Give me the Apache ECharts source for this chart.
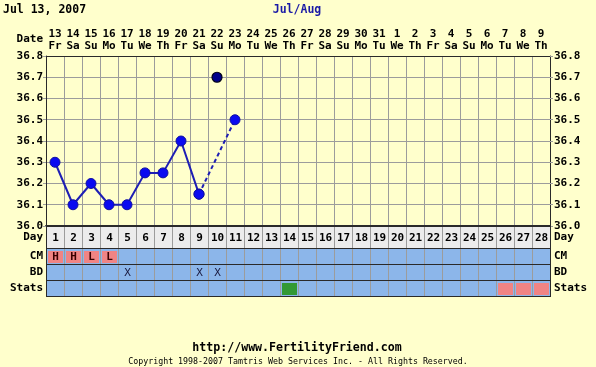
<!DOCTYPE html>
<html><head><meta charset="utf-8">
<script src="https://cdn.jsdelivr.net/npm/echarts@6/dist/echarts.min.js"></script>
<style>html,body{margin:0;padding:0;background:#ffffcc}#c{width:596px;height:367px}</style>
</head><body><div id="c"></div>
<script>
// ---- data ----
const dates = ['13','14','15','16','17','18','19','20','21','22','23','24','25','26','27','28','29','30','31','1','2','3','4','5','6','7','8','9'];
const weekdays = ['Fr','Sa','Su','Mo','Tu','We','Th','Fr','Sa','Su','Mo','Tu','We','Th','Fr','Sa','Su','Mo','Tu','We','Th','Fr','Sa','Su','Mo','Tu','We','Th'];
const cycleDays = ['1','2','3','4','5','6','7','8','9','10','11','12','13','14','15','16','17','18','19','20','21','22','23','24','25','26','27','28'];
const temps = [36.3, 36.1, 36.2, 36.1, 36.1, 36.25, 36.25, 36.4, 36.15, 36.7, 36.5];
const discardedTempDay = 10;
const cmObs = ['H','H','L','L'];
const bdDays = [5, 9, 10];
const statsGreenDays = [14];
const statsPinkDays = [26, 27, 28];
const tableRows = ['CM','BD','Stats'];
const yTicks = [36.0, 36.1, 36.2, 36.3, 36.4, 36.5, 36.6, 36.7, 36.8];

// ---- build ----
const F = '"DejaVu Sans Mono", monospace';
const BG = '#ffffcc', GRIDC = '#9c9c9c', DARK = '#2a2a2a';
const BLUE = '#8cb6ea', PINK = '#f08484', GREEN = '#339933';

const solidData = [], dashedData = [], discardData = [];
temps.forEach((v, i) => {
  const day = i + 1;
  if (day === discardedTempDay) { discardData.push([i, v]); return; }
  if (day < discardedTempDay) solidData.push([i, v]);
});
dashedData.push([discardedTempDay - 2, temps[discardedTempDay - 2]]);
dashedData.push([discardedTempDay, temps[discardedTempDay]]);

const dayCells = cycleDays.map((d, i) => ({col: i, row: 0, text: d}));
const tableCells = [];
cycleDays.forEach((d, i) => {
  const day = i + 1;
  tableCells.push({col: i, row: 0, text: cmObs[i] || '', mark: cmObs[i] ? PINK : null, bold: true, color: '#3a0000'});
  tableCells.push({col: i, row: 1, text: bdDays.includes(day) ? 'X' : '', mark: null, bold: false, color: '#1a1a40'});
  tableCells.push({col: i, row: 2, text: '', mark: statsGreenDays.includes(day) ? GREEN : (statsPinkDays.includes(day) ? PINK : null)});
});

function makeRenderer(cells, bg, nRows, nCols) {
  return function (params, api) {
    const cell = cells[params.dataIndex];
    const c = api.coord([api.value(0), api.value(1)]);
    const s = api.size([1, 1]);
    const x0 = Math.round(c[0] - s[0] / 2), x1 = Math.round(c[0] + s[0] / 2);
    const y0 = Math.round(c[1] - s[1] / 2), y1 = Math.round(c[1] + s[1] / 2);
    const ch = [];
    ch.push({type: 'rect', shape: {x: x0, y: y0, width: x1 - x0, height: y1 - y0}, style: {fill: bg}});
    if (cell.mark) ch.push({type: 'rect', shape: {x: x0 + 2, y: y0 + 3, width: x1 - x0 - 3, height: y1 - y0 - 4}, style: {fill: cell.mark}});
    ch.push({type: 'line', shape: {x1: x0 + 0.5, y1: y0, x2: x0 + 0.5, y2: y1}, style: {stroke: cell.col === 0 ? DARK : GRIDC, lineWidth: 1}});
    if (cell.col === nCols - 1) ch.push({type: 'line', shape: {x1: x1 + 0.5, y1: y0, x2: x1 + 0.5, y2: y1}, style: {stroke: DARK, lineWidth: 1}});
    ch.push({type: 'line', shape: {x1: x0, y1: y0 + 0.5, x2: x1 + 1, y2: y0 + 0.5}, style: {stroke: DARK, lineWidth: 1}});
    if (cell.row === nRows - 1) ch.push({type: 'line', shape: {x1: x0, y1: y1 + 0.5, x2: x1 + 1, y2: y1 + 0.5}, style: {stroke: DARK, lineWidth: 1}});
    if (cell.text) ch.push({type: 'text', style: {text: cell.text, x: (x0 + x1) / 2 + 0.5, y: (y0 + y1) / 2 + 1, align: 'center', verticalAlign: 'middle', font: (cell.bold === false ? 'normal' : 'bold') + ' 11px ' + F, fill: cell.color || '#000'}});
    return {type: 'group', children: ch};
  };
}

const lbl = {fontFamily: F, fontSize: 11, fontWeight: 'bold', color: '#000'};
const chart = echarts.init(document.getElementById('c'), null, {renderer: 'canvas'});
chart.setOption({
  backgroundColor: BG,
  animation: false,
  grid: [
    {left: 46, width: 504, top: 56, height: 170},
    {left: 46, width: 504, top: 226, height: 22},
    {left: 46, width: 504, top: 248, height: 48}
  ],
  xAxis: [
    {gridIndex: 0, type: 'category', position: 'top', data: dates, boundaryGap: true,
     axisLine: {lineStyle: {color: DARK, width: 1}}, axisTick: {show: false},
     splitLine: {show: true, lineStyle: {color: GRIDC, width: 1}},
     axisLabel: {interval: 0, margin: 4, lineHeight: 12, ...lbl,
       formatter: (v, i) => v + '\n' + weekdays[i]}},
    {gridIndex: 0, type: 'category', position: 'bottom', data: dates, boundaryGap: true,
     axisLine: {lineStyle: {color: DARK, width: 2}}, axisTick: {show: false}, axisLabel: {show: false}},
    {gridIndex: 1, type: 'category', data: cycleDays, show: false},
    {gridIndex: 2, type: 'category', data: cycleDays, show: false}
  ],
  yAxis: [
    {gridIndex: 0, type: 'value', min: 36.0, max: 36.8, interval: 0.1,
     axisLine: {show: true, lineStyle: {color: DARK}},
     axisTick: {show: true, length: 3, lineStyle: {color: GRIDC}},
     splitLine: {lineStyle: {color: GRIDC, width: 1}},
     axisLabel: {margin: 3, ...lbl, formatter: v => yTicks.find(t => Math.abs(t - v) < 1e-6).toFixed(1)}},
    {gridIndex: 0, type: 'value', position: 'right', min: 36.0, max: 36.8, interval: 0.1,
     axisLine: {show: true, lineStyle: {color: DARK}},
     axisTick: {show: true, length: 3, lineStyle: {color: GRIDC}},
     splitLine: {show: false},
     axisLabel: {margin: 4, ...lbl, formatter: v => yTicks.find(t => Math.abs(t - v) < 1e-6).toFixed(1)}},
    {gridIndex: 1, type: 'category', data: ['Day'], axisLine: {show: false}, axisTick: {show: false},
     axisLabel: {margin: 3, ...lbl, padding: [5, 0, 0, 0]}},
    {gridIndex: 1, type: 'category', position: 'right', data: ['Day'], axisLine: {show: false}, axisTick: {show: false},
     axisLabel: {margin: 4, ...lbl, padding: [5, 0, 0, 0]}},
    {gridIndex: 2, type: 'category', data: tableRows, inverse: true, axisLine: {show: false}, axisTick: {show: false},
     axisLabel: {margin: 3, ...lbl}},
    {gridIndex: 2, type: 'category', position: 'right', data: tableRows, inverse: true, axisLine: {show: false}, axisTick: {show: false},
     axisLabel: {margin: 4, ...lbl}}
  ],
  series: [
    {type: 'line', xAxisIndex: 0, yAxisIndex: 0, data: solidData, symbol: 'circle', symbolSize: 10,
     lineStyle: {color: '#1e1eb4', width: 2}, itemStyle: {color: '#0a0af0', borderColor: '#1010a0', borderWidth: 1}, z: 3},
    {type: 'line', xAxisIndex: 0, yAxisIndex: 0, data: dashedData, symbol: 'circle', symbolSize: 10,
     lineStyle: {color: '#1e1eb4', width: 2, type: [4, 3]}, itemStyle: {color: '#0a0af0', borderColor: '#1010a0', borderWidth: 1}, z: 3},
    {type: 'scatter', xAxisIndex: 0, yAxisIndex: 0, data: discardData, symbol: 'circle', symbolSize: 10,
     itemStyle: {color: '#00008a', borderColor: '#000018', borderWidth: 1.2, opacity: 1}, z: 4},
    {type: 'custom', xAxisIndex: 2, yAxisIndex: 2, data: dayCells.map(c => [c.col, c.row]),
     renderItem: makeRenderer(dayCells, '#ececec', 1, 28), z: 5},
    {type: 'custom', xAxisIndex: 3, yAxisIndex: 4, data: tableCells.map(c => [c.col, c.row]),
     renderItem: makeRenderer(tableCells, BLUE, 3, 28), z: 5}
  ],
  graphic: [
    {type: 'text', x: 3, y: 10, style: {text: 'Jul 13, 2007', font: 'bold 11.5px ' + F, fill: '#000', align: 'left', verticalAlign: 'middle'}},
    {type: 'text', x: 297, y: 10, style: {text: 'Jul/Aug', font: 'bold 11.5px ' + F, fill: '#1a1aa6', align: 'center', verticalAlign: 'middle'}},
    {type: 'text', x: 43, y: 39, style: {text: 'Date', font: 'bold 11px ' + F, fill: '#000', align: 'right', verticalAlign: 'middle'}},
    {type: 'text', x: 297, y: 348, style: {text: 'http://www.FertilityFriend.com', font: 'bold 11.6px ' + F, fill: '#000', align: 'center', verticalAlign: 'middle'}},
    {type: 'text', x: 298, y: 362, style: {text: 'Copyright 1998-2007 Tamtris Web Services Inc. - All Rights Reserved.', font: '8.3px ' + F, fill: '#000', align: 'center', verticalAlign: 'middle'}}
  ]
});
</script></body></html>
